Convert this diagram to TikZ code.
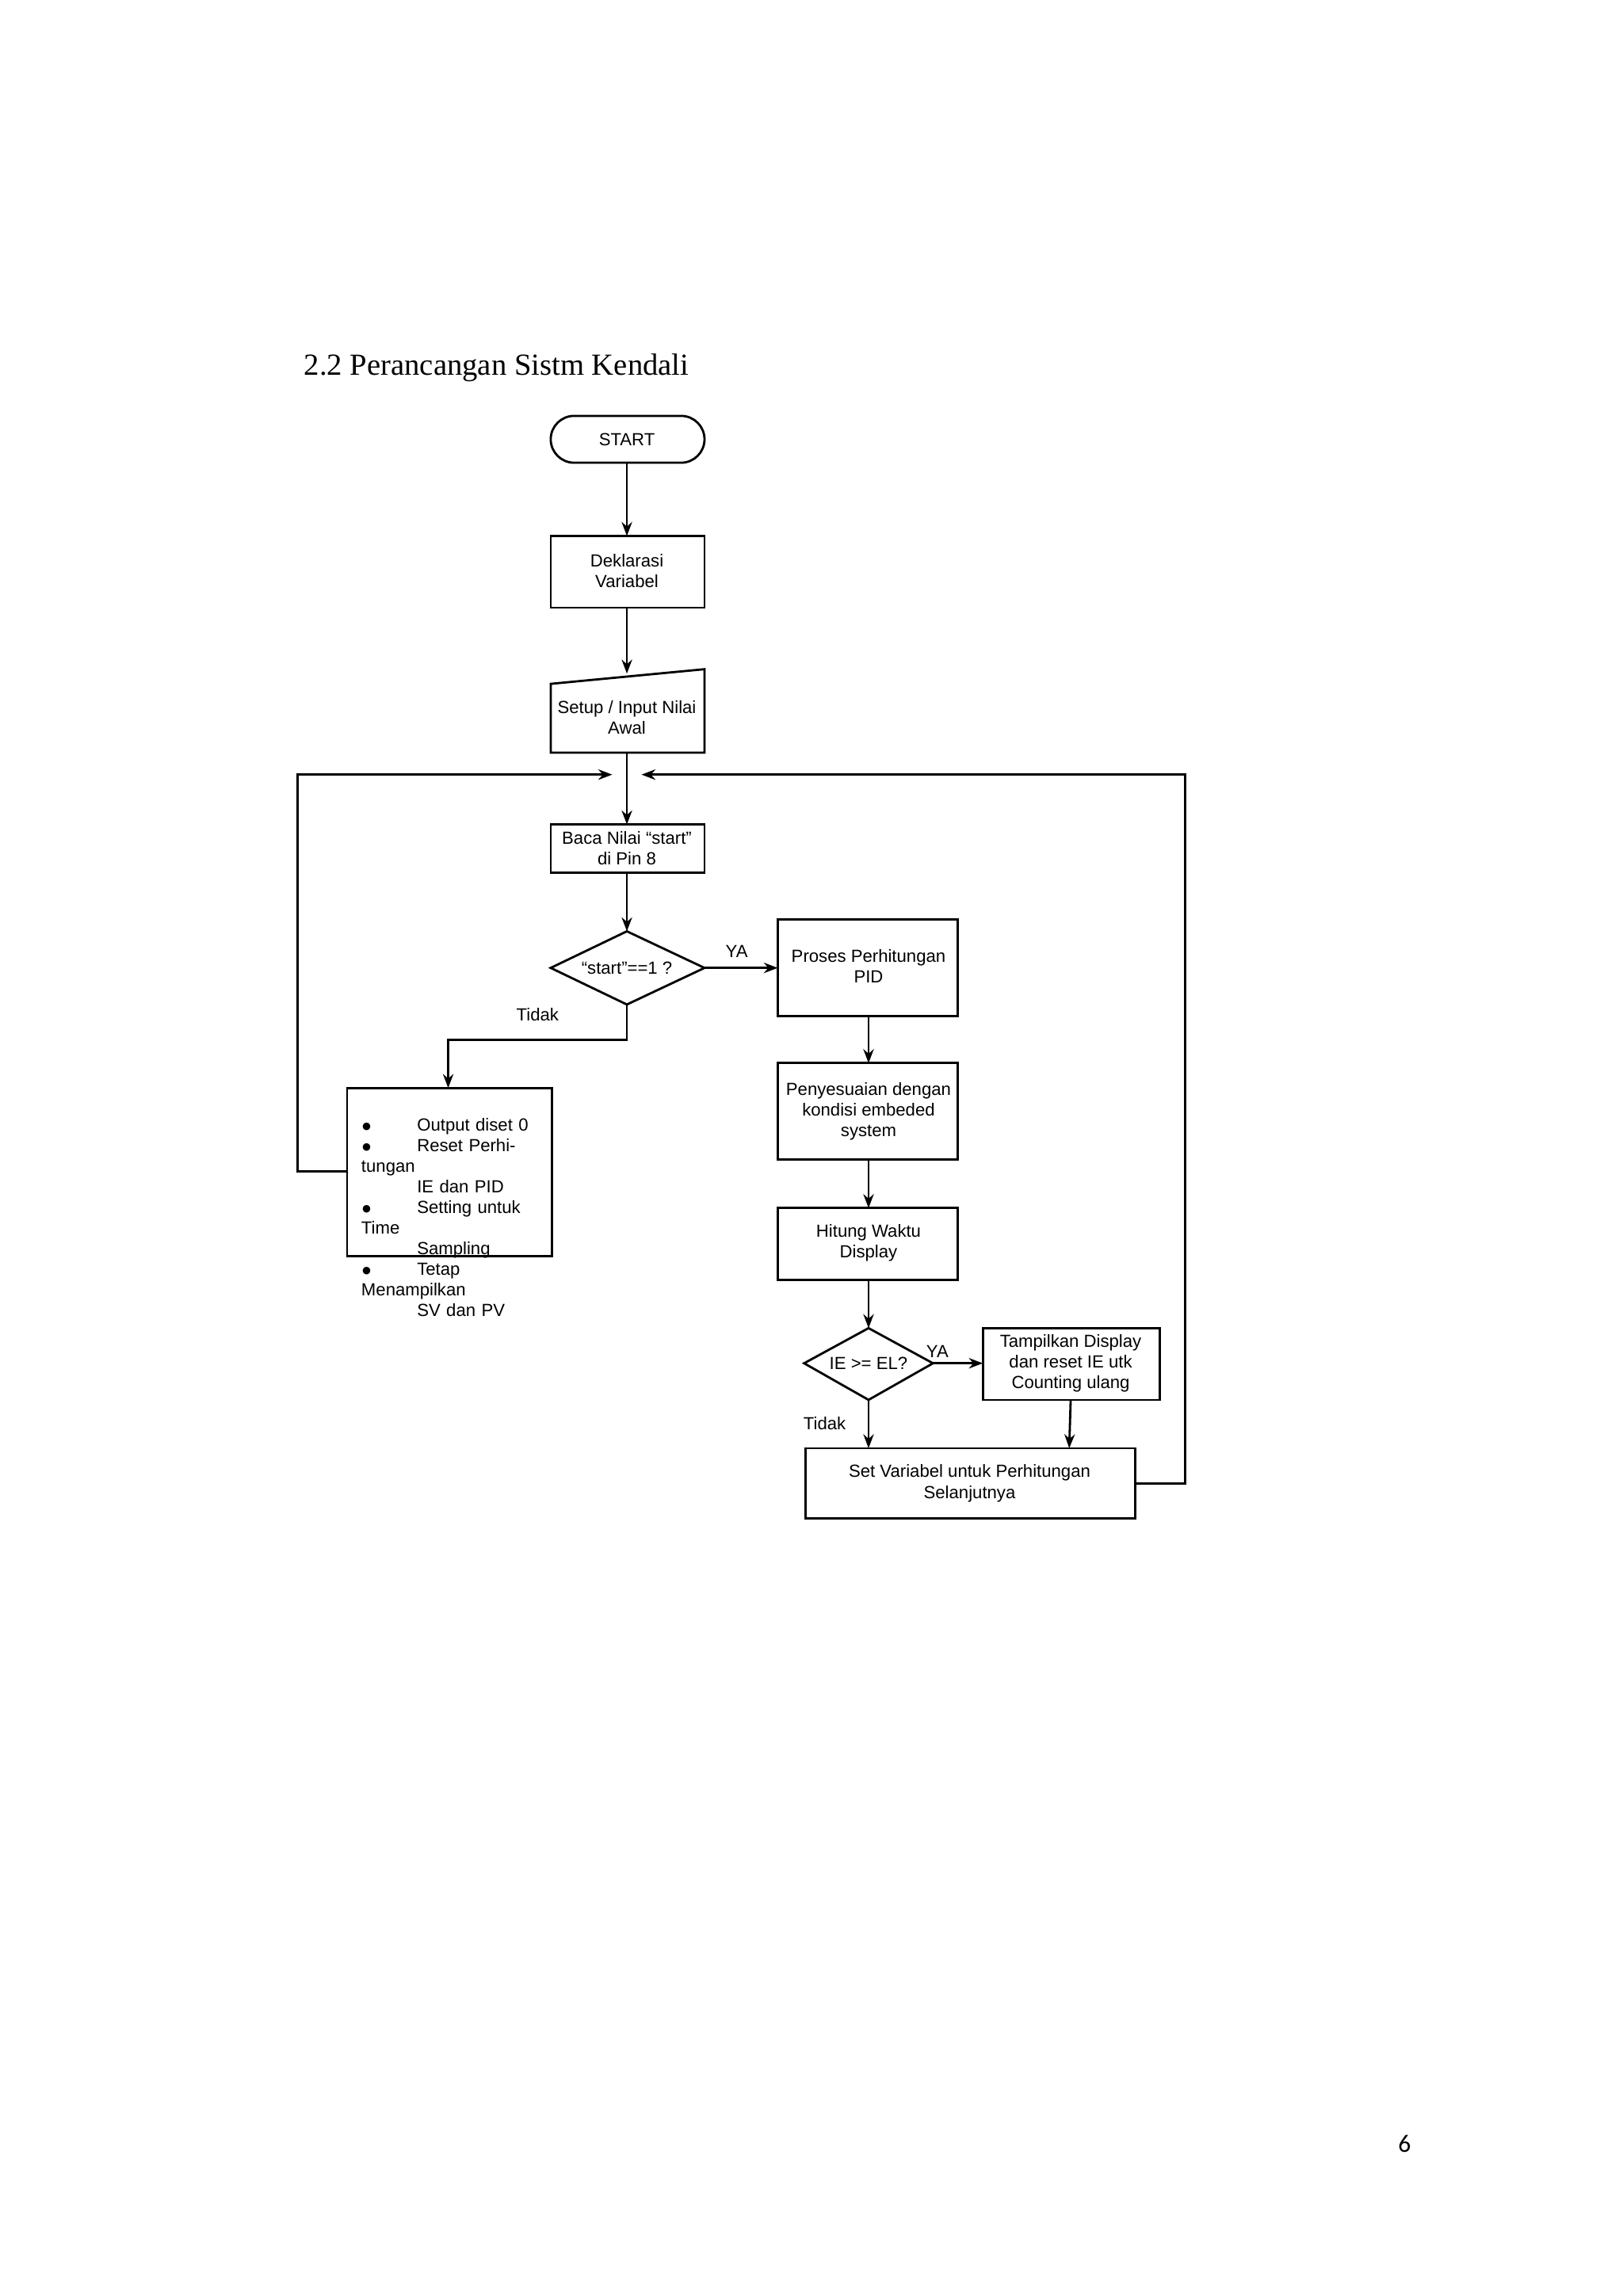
\documentclass[tikz,border=0pt]{standalone}
\usepackage{fontspec}
\setmainfont{Liberation Sans}
\newfontfamily\myser{Liberation Serif}
\newfontfamily\mycal{Carlito}
\usetikzlibrary{shapes.geometric,arrows.meta}
\begin{document}
\begin{tikzpicture}[x=0.01848cm,y=-0.01848cm,
 every node/.style={font=\fontsize{6.3}{7.4}\selectfont},
 box/.style={draw,thick,align=center,inner sep=0},
 ar/.style={thick,-{Stealth[length=5pt]}},
 ln/.style={thick}]
\useasboundingbox (0,0) rectangle (1108,1568);
\node[anchor=west,font=\myser\fontsize{11}{13}\selectfont] (title) at (201,251) {2.2 Perancangan Sistm Kendali};
\node[anchor=center,font=\mycal\fontsize{9}{11}\selectfont] (pg) at (959,1464) {6};
% start
\draw[thick,rounded corners=16*0.01848cm] (376,284) rectangle (481,316);
\node (start) at (428,300) {START};
\coordinate (startb) at (428,316);
\draw[box] (376,366) rectangle (481,415);
\node[align=center] (dek) at (428,390) {Deklarasi\\Variabel};
\draw[thick] (376,467) -- (481,457) -- (481,514) -- (376,514) -- cycle;
\node[align=center] (setup) at (428,490) {Setup / Input Nilai\\Awal};
\draw[box] (376,563) rectangle (481,596);
\node[align=center] (baca) at (428,579) {Baca Nilai “start”\\di Pin 8};
\draw[thick] (376,661) -- (428,636) -- (481,661) -- (428,686) -- cycle;
\node (d1) at (428,661) {“start”==1 ?};
\draw[box] (531,628) rectangle (654,694);
\node[align=center] (pid) at (593,660) {Proses Perhitungan\\PID};
\draw[box] (531,726) rectangle (654,792);
\node[align=center] (peny) at (593,759) {Penyesuaian dengan\\kondisi embeded\\system};
\draw[box] (531,825) rectangle (654,874);
\node[align=center] (hit) at (593,849) {Hitung Waktu\\Display};
\draw[thick] (549,931) -- (593,907) -- (637,931) -- (593,956) -- cycle;
\node (d2) at (593,931) {IE >= EL?};
\draw[box] (671,907) rectangle (792,956);
\node[align=center] (tamp) at (731,931) {Tampilkan Display\\dan reset IE utk\\Counting ulang};
\draw[box] (550,989) rectangle (775,1037);
\node[align=center] (setv) at (662,1013) {Set Variabel untuk Perhitungan\\Selanjutnya};
\draw[box] (237,743) rectangle (377,858);
\node[anchor=north west,align=left,text width=120*0.01848cm] (out) at (240,757) {%
\makebox[20pt][l]{$\bullet$}Output diset 0\\
\makebox[20pt][l]{$\bullet$}Reset Perhitungan\\
\makebox[20pt][l]{}IE dan PID\\
\makebox[20pt][l]{$\bullet$}Setting untuk Time\\
\makebox[20pt][l]{}Sampling\\
\makebox[20pt][l]{$\bullet$}Tetap Menampilkan\\
\makebox[20pt][l]{}SV dan PV};
% connectors
\coordinate (j) at (428,529);
\coordinate (dekt) at (428,366);
\draw[ar] (startb) -- (dekt);
\draw[ar] (428,415) -- (428,460);
\draw[ar] (428,514) -- (428,563);
\draw[ar] (428,596) -- (428,636);
\draw[ar] (481,661) -- (531,661);
\node (ya1) at (503,650) {YA};
\node (td1) at (367,693) {Tidak};
\draw[ar] (428,686) -- (428,710) -- (306,710) -- (306,743);
\draw[ar] (237,800) -- (203,800) -- (203,529) -- (418,529);
\draw[ar] (775,1013) -- (809,1013) -- (809,529) -- (438,529);
\draw[ar] (593,694) -- (593,726);
\draw[ar] (593,792) -- (593,825);
\draw[ar] (593,874) -- (593,907);
\draw[ar] (637,931) -- (671,931);
\node (ya2) at (640,923) {YA};
\node (td2) at (563,972) {Tidak};
\draw[ar] (593,956) -- (593,989);
\draw[ar] (731,956) -- (730,989);
\end{tikzpicture}
\end{document}
